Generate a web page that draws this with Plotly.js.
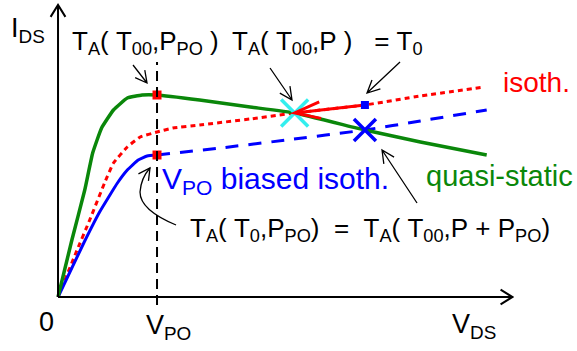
<!DOCTYPE html>
<html><head><meta charset="utf-8">
<script src="https://cdn.plot.ly/plotly-3.0.1.min.js"></script>
<style>html,body{margin:0;padding:0;background:#fff}#chart{width:577px;height:351px}</style>
</head><body><div id="chart"></div>
<script>
// ---- data (V_DS in units of V_PO, I_DS arbitrary units) ----
const vQS  = [0,0.14,0.27,0.35,0.44,0.56,0.70,0.85,1.0,1.43,1.94,2.39,3.10,3.66,4.33];
const iQS  = [0,0.57,1.07,1.44,1.69,1.87,1.99,2.02,2.02,1.97,1.90,1.84,1.67,1.55,1.42];
const vISO = [0,0.18,0.32,0.47,0.56,0.70,0.83,1.0,1.16,1.43,1.94,2.39,3.10,3.66,4.31];
const iISO = [0,0.44,0.77,1.14,1.34,1.50,1.60,1.65,1.69,1.72,1.78,1.84,1.92,2.01,2.10];
const vBiasLow  = [0,0.26,0.42,0.60,0.70,0.81,0.90,1.0];
const iBiasLow  = [0,0.54,0.85,1.14,1.27,1.37,1.41,1.42];
const vBiasHigh = [1.0,1.64,2.31,3.10,3.66,4.33];
const iBiasHigh = [1.42,1.49,1.57,1.67,1.76,1.87];
const vPO = 1.0;
const axisEnd = [4.59, 2.92];
const ptQS    = [1.0, 2.02];   // T_A(T00,P_PO) on quasi-static
const ptBias  = [1.0, 1.42];   // biased isotherm at V_PO
const ptIsoP  = [3.10, 1.92];  // T_A(T00,P)=T0 on isotherm
const ptCross = [2.39, 1.84];  // quasi-static x isotherm
const ptBX    = [3.10, 1.67];  // quasi-static x biased isotherm

// ---- geometry helpers ----
const W = 577, H = 351;
const XR = [-0.586, 5.242], YR = [-0.54, 2.97];
const sx = W / (XR[1] - XR[0]), sy = H / (YR[1] - YR[0]);
function P(x, y) { return [(x - 58) / sx, (297 - y) / sy]; } // picture position -> axis units (labels/arrows only)
function wings(tip, from, len, ang) {
  const dx = (from[0] - tip[0]) * sx, dy = (from[1] - tip[1]) * sy;
  const L = Math.hypot(dx, dy), ux = dx / L, uy = dy / L, out = [];
  for (const s of [1, -1]) {
    const c = Math.cos(s * ang), si = Math.sin(s * ang);
    const rx = ux * c - uy * si, ry = ux * si + uy * c;
    out.push([tip[0] + rx * len / sx, tip[1] + ry * len / sy]);
  }
  return out;
}
const f = p => p[0].toFixed(4) + ',' + p[1].toFixed(4);
function arrowShape(from, tip, len, ang, color, width) {
  const w = wings(tip, from, len, ang);
  return {type: 'path', xref: 'x', yref: 'y',
    path: 'M' + f(from) + 'L' + f(tip) + 'M' + f(w[0]) + 'L' + f(tip) + 'L' + f(w[1]),
    line: {color: color, width: width}};
}
function headShape(tip, from, len, ang, color, width) {
  const w = wings(tip, from, len, ang);
  return {type: 'path', xref: 'x', yref: 'y',
    path: 'M' + f(w[0]) + 'L' + f(tip) + 'L' + f(w[1]), line: {color: color, width: width}};
}
const D2R = Math.PI / 180;

const GREEN = '#0a870a', RED = '#ff0000', BLUE = '#0000ff', CYAN = '#33eeee';
const SM = 0.35;

const traces = [
  {x: vISO, y: iISO, mode: 'lines', line: {color: RED, width: 3, dash: '5px,4px', shape: 'spline', smoothing: SM}},
  {x: vBiasLow, y: iBiasLow, mode: 'lines', line: {color: BLUE, width: 3, shape: 'spline', smoothing: SM}},
  {x: vBiasHigh, y: iBiasHigh, mode: 'lines', line: {color: BLUE, width: 3, dash: '13px,10px', shape: 'spline', smoothing: SM}},
  {x: vQS, y: iQS, mode: 'lines', line: {color: GREEN, width: 3.5, shape: 'spline', smoothing: SM}},
  {x: [ptIsoP[0], ptCross[0]], y: [ptIsoP[1], ptCross[1]], mode: 'lines', line: {color: RED, width: 3}},
  {x: [ptCross[0]], y: [ptCross[1]], mode: 'markers', marker: {symbol: 'x-thin-open', size: 27, color: CYAN, line: {color: CYAN, width: 3.5}}},
  {x: [ptBX[0]], y: [ptBX[1]], mode: 'markers', marker: {symbol: 'x-thin-open', size: 22, color: BLUE, line: {color: '#1010d0', width: 3.5}}},
  {x: [ptQS[0], ptBias[0]], y: [ptQS[1], ptBias[1]], mode: 'markers', marker: {symbol: 'square', size: 9, color: RED}},
  {x: [ptIsoP[0]], y: [ptIsoP[1]], mode: 'markers', marker: {symbol: 'square', size: 8, color: BLUE}}
];

const shapes = [
  arrowShape([0, 0], [0, axisEnd[1]], 14, 32 * D2R, '#000', 2),
  arrowShape([0, 0], [axisEnd[0], 0], 14, 32 * D2R, '#000', 2),
  {type: 'line', xref: 'x', yref: 'y', x0: vPO, x1: vPO, y0: P(0, 305)[1], y1: P(0, 62)[1], line: {color: '#000', width: 2, dash: '10px,6px'}},
  headShape(ptCross, ptIsoP, 27, 18 * D2R, RED, 3),
  arrowShape(P(133, 65), P(147, 83), 13, 28 * D2R, '#000', 1.3),
  arrowShape(P(270, 68), P(292, 100), 14, 26 * D2R, '#000', 1.3),
  arrowShape(P(400, 62), P(367, 93), 14, 26 * D2R, '#000', 1.3),
  arrowShape(P(417, 203), P(382, 150), 14, 26 * D2R, '#000', 1.3),
  {type: 'path', xref: 'x', yref: 'y', line: {color: '#000', width: 1.3},
   path: 'M' + f(P(176, 225)) + 'Q' + f(P(140, 210)) + ' ' + f(P(140, 192)) + 'Q' + f(P(141, 178)) + ' ' + f(P(150, 168))},
  headShape(P(150, 168), P(143, 178), 13, 28 * D2R, '#000', 1.3)
];

const FONT = 'Liberation Sans, Arial, sans-serif';
function lab(pos, text, size, color, xanchor) {
  return {x: pos[0], y: pos[1], xref: 'x', yref: 'y', text: text, showarrow: false,
    xanchor: xanchor || 'left', yanchor: 'middle', font: {family: FONT, size: size, color: color}};
}
const NB = '\u00a0';
const annotations = [
  lab(P(9, 30), 'I<sub>DS</sub>', 27, '#000'),
  lab(P(70, 42), 'T<sub>A</sub>(' + NB + 'T<sub>00</sub>,P<sub>PO</sub>' + NB + ')', 26, '#000'),
  lab(P(230, 42), 'T<sub>A</sub>(' + NB + 'T<sub>00</sub>,P' + NB + ')' + NB + NB + NB + '=' + NB + 'T<sub>0</sub>', 26, '#000'),
  lab(P(501, 82), 'isoth.', 28, RED),
  lab(P(160, 180), 'V<sub>PO</sub> biased isoth.', 30, BLUE),
  lab(P(424, 176), 'quasi-static', 29, GREEN),
  lab(P(188, 229), 'T<sub>A</sub>(' + NB + 'T<sub>0</sub>,P<sub>PO</sub>)' + NB + NB + '=' + NB + NB + 'T<sub>A</sub>(' + NB + 'T<sub>00</sub>,P' + NB + '+' + NB + 'P<sub>PO</sub>)', 26, '#000'),
  lab(P(46, 322), '0', 27, '#000', 'center'),
  lab(P(144, 327), 'V<sub>PO</sub>', 27, '#000'),
  lab(P(450, 326), 'V<sub>DS</sub>', 27, '#000')
];

const layout = {
  width: W, height: H, margin: {l: 0, r: 0, t: 0, b: 0},
  paper_bgcolor: '#fff', plot_bgcolor: '#fff', showlegend: false,
  xaxis: {range: XR, visible: false, fixedrange: true},
  yaxis: {range: YR, visible: false, fixedrange: true},
  shapes: shapes, annotations: annotations
};
Plotly.newPlot('chart', traces, layout, {staticPlot: true, displayModeBar: false});
</script>
</body></html>
